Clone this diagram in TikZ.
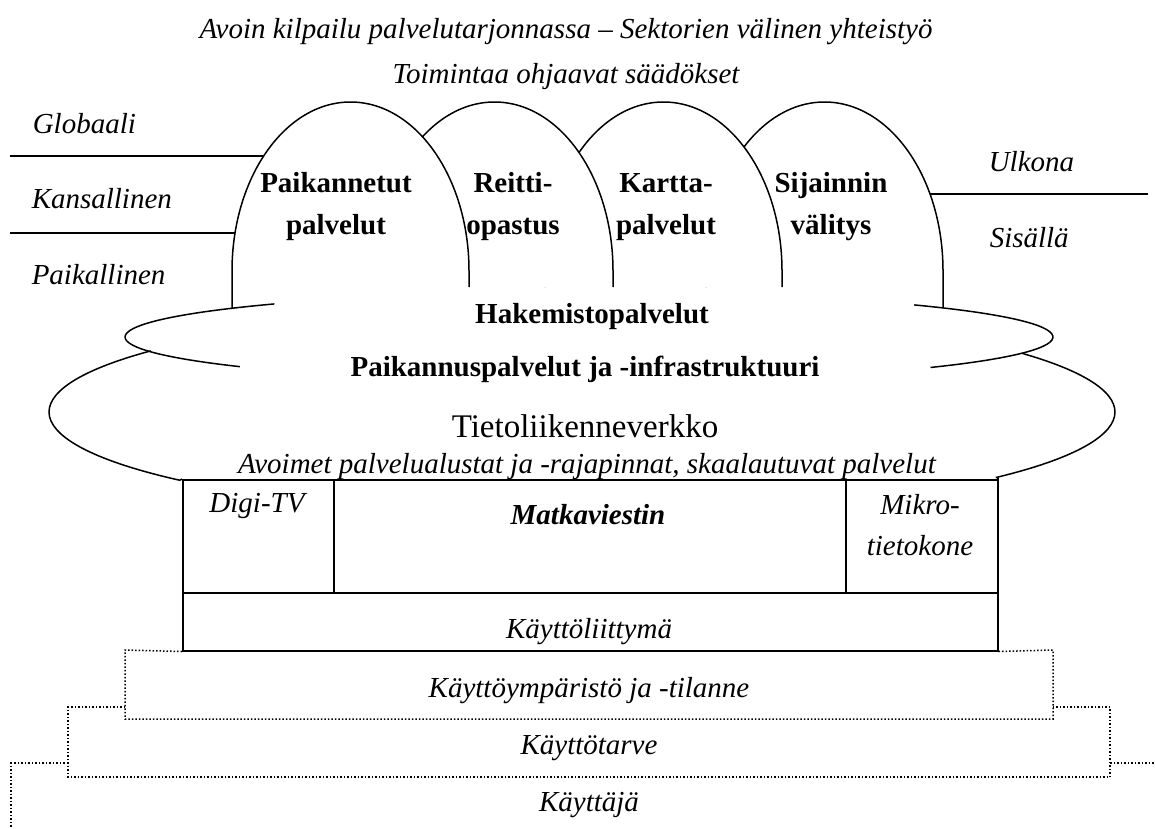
\documentclass[tikz,border=0pt]{standalone}
\usepackage{fontspec}
\setmainfont{Liberation Serif}
\begin{document}
\begin{tikzpicture}[x=1pt,y=-1pt,line width=1.5pt,
  it/.style={font=\fontsize{29}{35}\selectfont\itshape,inner sep=0pt},
  bf/.style={font=\fontsize{29}{35}\selectfont\bfseries,inner sep=0pt},
  cell/.style={draw,line width=1.5pt,inner sep=0pt,anchor=north west},
  dots/.style={line width=1.5pt,dash pattern=on 1.5pt off 2pt},
  archfill/.style={fill=white,draw=none}]
\useasboundingbox (0,0) rectangle (1155,828);

% scale lines left and right of the service arches
\coordinate (gA) at (10,156);  \coordinate (gB) at (300,156);
\coordinate (kA) at (10,233);  \coordinate (kB) at (260,233);
\coordinate (uA) at (1148,194); \coordinate (uB) at (900,194);
\draw (gA) -- (gB);
\draw (kA) -- (kB);
\draw (uA) -- (uB);

% service arches, drawn back to front
\foreach \cx/\bl/\br in {824.5/287/308, 663.5/287/287, 494.5/287/287, 350.5/308/287}{
  \path[archfill] (\cx-118.5,\bl) -- (\cx-118.5,271)
     arc[start angle=180,end angle=360,x radius=118.5,y radius=169] -- (\cx+118.5,\br) -- cycle;
  \draw (\cx-118.5,\bl) -- (\cx-118.5,271)
     arc[start angle=180,end angle=360,x radius=118.5,y radius=169] -- (\cx+118.5,\br);
}

% device box
\node[cell,minimum width=151pt,minimum height=113pt] (digi) at (182,479) {};
\node[cell,minimum width=512pt,minimum height=113pt] (matk) at (333,479) {};
\node[cell,minimum width=152pt,minimum height=113pt] (mikro) at (845,479) {};
\node[cell,minimum width=815pt,minimum height=58pt] (ui) at (182,592) {};

% cloud: upper lobe
\draw (589,337) ++(227.3:464 and 45)
   arc[start angle=227.3,end angle=138.8,x radius=464,y radius=45];
\draw (589,337) ++(-45.5:464 and 45)
   arc[start angle=-45.5,end angle=42.6,x radius=464,y radius=45];
% cloud: lower lobe
\draw (582,412) ++(216:533 and 104)
   arc[start angle=216,end angle=139,x radius=533,y radius=104] -- (digi.north west);
\draw (582,412) ++(-34.2:533 and 104)
   arc[start angle=-34.2,end angle=38.9,x radius=533,y radius=104] -- (mikro.north east);

% dotted steps below the box
\draw[dots] (ui.south west) -- (125,650) -- (125,719) -- (1053,719) -- (1053,650) -- (ui.south east);
\draw[dots] (125,707) -- (68,707) -- (68,777) -- (1110,777) -- (1110,707) -- (1053,707);
\draw[dots] (68,763) -- (11,763) -- (11,828);
\draw[dots] (1110,763) -- (1155,763);

% texts
\node[it,anchor=base] (t1) at (566,38) {Avoin kilpailu palvelutarjonnassa – Sektorien välinen yhteistyö};
\node[it,anchor=base] (t2) at (566,83) {Toimintaa ohjaavat säädökset};
\node[it,anchor=base west] (glob) at (32,133) {Globaali};
\node[it,anchor=base west] (kans) at (31,208) {Kansallinen};
\node[it,anchor=base west] (paik) at (31,284) {Paikallinen};
\node[it,anchor=base west] (ulk) at (988,171) {Ulkona};
\node[it,anchor=base west] (sis) at (989,247) {Sisällä};

\node[bf,anchor=base] (a1a) at (336,192) {Paikannetut};
\node[bf,anchor=base] (a1b) at (336,234) {palvelut};
\node[bf,anchor=base] (a2a) at (513,192) {Reitti-};
\node[bf,anchor=base] (a2b) at (513,234) {opastus};
\node[bf,anchor=base] (a3a) at (666,192) {Kartta-};
\node[bf,anchor=base] (a3b) at (666,234) {palvelut};
\node[bf,anchor=base] (a4a) at (831,192) {Sijainnin};
\node[bf,anchor=base] (a4b) at (831,234) {välitys};

\node[bf,anchor=base] (hak) at (592,323) {Hakemistopalvelut};
\node[bf,anchor=base] (pain) at (585,376) {Paikannuspalvelut ja -infrastruktuuri};
\node[inner sep=0pt,font=\fontsize{33}{38}\selectfont,anchor=base] (tiet) at (585,437) {Tietoliikenneverkko};
\node[it,anchor=base] (avo) at (587,473) {Avoimet palvelualustat ja -rajapinnat, skaalautuvat palvelut};

\node[it,anchor=base] (digit) at (257,512) {Digi-TV};
\node[it,anchor=base,font=\fontsize{29}{35}\selectfont\bfseries\itshape] (matkt) at (588,524) {Matkaviestin};
\node[it,anchor=base] (mik1) at (920,514) {Mikro-};
\node[it,anchor=base] (mik2) at (920,555) {tietokone};
\node[it,anchor=base] (uit) at (589,638) {Käyttöliittymä};
\node[it,anchor=base] (kymp) at (589,697) {Käyttöympäristö ja -tilanne};
\node[it,anchor=base] (ktar) at (589,754) {Käyttötarve};
\node[it,anchor=base] (kaj) at (589,811) {Käyttäjä};
\end{tikzpicture}
\end{document}
